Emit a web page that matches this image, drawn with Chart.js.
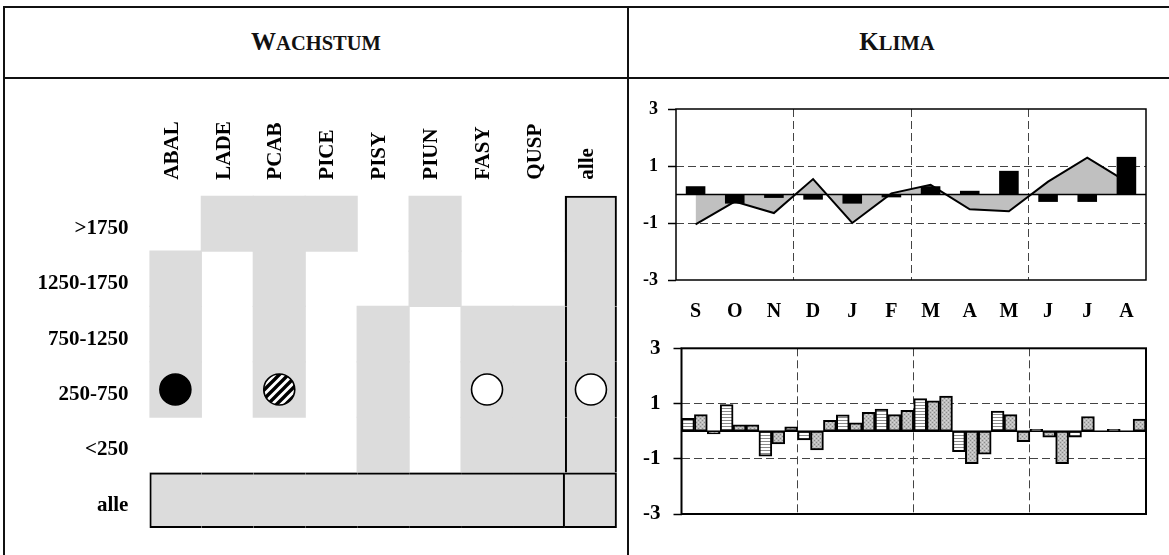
<!DOCTYPE html>
<html>
<head>
<meta charset="utf-8">
<script src="https://cdn.jsdelivr.net/npm/chart.js@4.4.1/dist/chart.umd.min.js"></script>
<style>
  body { margin: 0; background: #fff; width: 1169px; height: 555px; overflow: hidden; position: relative; font-family: 'Liberation Serif', serif; }
  .ln { position: absolute; background: #111; }
  .title { position: absolute; top: 24px; font-weight: bold; color: #111; text-align: center; line-height: 36px; }
  canvas { position: absolute; }
</style>
</head>
<body>
<div class="ln" style="left:3px;top:6px;width:1166px;height:2px"></div>
<div class="ln" style="left:3px;top:77px;width:1166px;height:2px"></div>
<div class="ln" style="left:3px;top:6px;width:2px;height:549px"></div>
<div class="ln" style="left:627px;top:6px;width:2px;height:549px"></div>
<div class="title" style="left:5px;width:622px"><span style="font-size:25px">W</span><span style="font-size:20.5px">ACHSTUM</span></div>
<div class="title" style="left:629px;width:536px"><span style="font-size:25px">K</span><span style="font-size:20.5px">LIMA</span></div>

<canvas id="growth" width="628" height="470" style="left:6px;top:81px"></canvas>
<canvas id="climateTop" width="530" height="245" style="left:632px;top:84px"></canvas>
<canvas id="climateBottom" width="530" height="220" style="left:632px;top:330px"></canvas>

<script>
// --- growth table ---
const species = ['ABAL', 'LADE', 'PCAB', 'PICE', 'PISY', 'PIUN', 'FASY', 'QUSP', 'alle'];
const altitudes = ['>1750', '1250-1750', '750-1250', '250-750', '<250', 'alle'];
// 1 = shaded cell, rows top to bottom
const present = [
  [0, 1, 1, 1, 0, 1, 0, 0, 1],
  [1, 0, 1, 0, 0, 1, 0, 0, 1],
  [1, 0, 1, 0, 1, 0, 1, 1, 1],
  [1, 0, 1, 0, 1, 0, 1, 1, 1],
  [0, 0, 0, 0, 1, 0, 1, 1, 1],
  [1, 1, 1, 1, 1, 1, 1, 1, 1]
];
const markerRow = '250-750';
const markers = ['filled', null, 'hatched', null, null, null, 'open', null, 'open'];

// --- climate ---
const months = ['S', 'O', 'N', 'D', 'J', 'F', 'M', 'A', 'M', 'J', 'J', 'A'];
const tempBars = [0.29, -0.32, -0.12, -0.18, -0.32, -0.1, 0.29, 0.13, 0.83, -0.26, -0.26, 1.32];
const tempLine = [-1.05, -0.25, -0.65, 0.54, -1.0, 0.04, 0.34, -0.52, -0.59, 0.45, 1.29, 0.45];
const precA = [0.46, 0.96, -0.91, -0.32, 0.59, 0.8, 1.18, -0.74, 0.73, 0.07, -0.22, 0.07];
const precB = [0.6, 0.23, -0.46, -0.68, 0.3, 0.6, 1.1, -1.18, 0.6, -0.22, 0.53, 0];
const precC = [-0.1, 0.23, 0.16, 0.39, 0.68, 0.75, 1.27, -0.83, -0.38, -1.18, 0, 0.44];
const yTicks = [-3, -1, 1, 3];

Chart.defaults.font.family = "'Liberation Serif', serif";
Chart.defaults.font.weight = 'bold';
Chart.defaults.color = '#000';
Chart.defaults.animation = false;
Chart.defaults.plugins.legend.display = false;
Chart.defaults.plugins.tooltip.enabled = false;

function makePattern(w, h, draw) {
  const c = document.createElement('canvas');
  c.width = w; c.height = h;
  const g = c.getContext('2d');
  draw(g);
  return g.createPattern(c, 'repeat');
}
const hatch = makePattern(9, 9, g => {
  g.fillStyle = '#fff'; g.fillRect(0, 0, 9, 9);
  g.strokeStyle = '#000'; g.lineWidth = 3.4;
  g.beginPath();
  g.moveTo(0, 9); g.lineTo(9, 0);
  g.moveTo(-3, 3); g.lineTo(3, -3);
  g.moveTo(6, 12); g.lineTo(12, 6);
  g.stroke();
});
const stripes = makePattern(4, 3, g => {
  g.fillStyle = '#fff'; g.fillRect(0, 0, 4, 3);
  g.fillStyle = '#8a8a8a'; g.fillRect(0, 0, 4, 1);
});
const stipple = makePattern(4, 4, g => {
  g.fillStyle = '#bdbdbd'; g.fillRect(0, 0, 4, 4);
  g.fillStyle = '#8a8a8a'; g.fillRect(0, 0, 1, 1); g.fillRect(2, 2, 1, 1);
  g.fillStyle = '#d8d8d8'; g.fillRect(2, 0, 1, 1); g.fillRect(0, 2, 1, 1);
});
const markerFill = { filled: '#000', hatched: hatch, open: '#fff' };

// black outline round the "alle" column and the "alle" row
const nRows = altitudes.length;
const lastRow = nRows - 1, lastCol = species.length - 1;
function cellBorder(r, c) {
  const b = { top: 0, right: 0, bottom: 0, left: 0 };
  if (r === lastRow) {
    b.top = 2; b.bottom = 2;
    if (c === 0) b.left = 2;
    if (c === lastCol - 1 || c === lastCol) b.right = 2;
  } else if (c === lastCol) {
    b.left = 2; b.right = 2;
    if (r === 0) b.top = 2;
  }
  return b;
}
const rowRange = r => [nRows - 1 - r, nRows - r];
const cellCommon = { type: 'bar', grouped: false, barPercentage: 1, categoryPercentage: 1 };

const cellSets = altitudes.map((alt, r) => ({
  ...cellCommon,
  data: present[r].map(v => v ? rowRange(r) : null),
  backgroundColor: '#dcdcdc',
  borderWidth: 0,
  inflateAmount: 0.6,
  order: 3
}));
const outlineSets = altitudes.map((alt, r) => ({
  ...cellCommon,
  data: species.map((s, c) => (r === lastRow || c === lastCol) ? rowRange(r) : null),
  backgroundColor: 'rgba(0,0,0,0)',
  borderColor: '#000',
  borderWidth: ctx => cellBorder(r, ctx.dataIndex),
  borderSkipped: false,
  inflateAmount: 0,
  order: 2
}));
const markerY = nRows - altitudes.indexOf(markerRow) - 0.5;

new Chart(document.getElementById('growth'), {
  type: 'bar',
  data: {
    labels: species,
    datasets: [
      {
        type: 'line',
        data: markers.map(m => m ? markerY : null),
        showLine: false,
        pointRadius: 15.5,
        pointBackgroundColor: ctx => markerFill[markers[ctx.dataIndex]] || '#fff',
        pointBorderColor: '#000',
        pointBorderWidth: 1.6,
        order: 0
      },
      ...outlineSets,
      ...cellSets
    ]
  },
  options: {
    responsive: false,
    layout: { padding: { left: 0, right: 7.5, top: 0, bottom: 23 } },
    scales: {
      x: {
        position: 'top',
        offset: true,
        grid: { display: false, drawTicks: false },
        border: { display: false },
        ticks: { font: { size: 21 }, minRotation: 90, maxRotation: 90, padding: 16, labelOffset: 22, autoSkip: false },
        afterFit: s => { s.height = 114.7; s.paddingLeft = 0; s.paddingRight = 0; }
      },
      y: {
        type: 'linear',
        min: 0,
        max: nRows,
        grid: { display: false, drawTicks: false },
        border: { display: false },
        afterBuildTicks: s => { s.ticks = altitudes.map((a, i) => ({ value: nRows - 1 - i + 0.5 })); },
        ticks: {
          font: { size: 21 },
          padding: 21,
          labelOffset: 5,
          callback: v => altitudes[nRows - 1 - Math.floor(v)]
        },
        afterFit: s => { s.width = 143.4; s.paddingTop = 0; s.paddingBottom = 0; }
      }
    }
  }
});

// frame and zero line from the chart's own scales
const framePlugin = {
  id: 'frame',
  afterDatasetsDraw(chart, args, opts) {
    const { ctx, chartArea: a } = chart;
    const y0 = chart.scales.y.getPixelForValue(0);
    ctx.save();
    ctx.strokeStyle = '#000';
    ctx.lineWidth = opts.zero;
    ctx.beginPath(); ctx.moveTo(a.left, y0); ctx.lineTo(a.right, y0); ctx.stroke();
    ctx.lineWidth = opts.width;
    ctx.strokeRect(a.left, a.top, a.right - a.left, a.bottom - a.top);
    ctx.restore();
  }
};

function climateScales(labelSize, xHeight, yWidth, showMonths, yPad) {
  return {
    x: {
      offset: true,
      grid: {
        color: ctx => (ctx.index > 0 && ctx.index < months.length && ctx.index % 3 === 0) ? '#444' : 'rgba(0,0,0,0)',
        lineWidth: 1,
        drawTicks: false
      },
      border: { display: false, dash: [8, 4] },
      ticks: { display: showMonths, font: { size: 20 }, padding: 20 },
      afterFit: s => { s.height = xHeight; s.paddingLeft = 0; s.paddingRight = 0; }
    },
    y: {
      min: -3,
      max: 3,
      afterBuildTicks: s => { s.ticks = yTicks.map(v => ({ value: v })); },
      grid: {
        color: ctx => Math.abs(ctx.tick.value) === 1 ? '#444' : 'rgba(0,0,0,0)',
        tickColor: '#000',
        tickLength: 8,
        tickWidth: 1.5
      },
      border: { display: false, dash: [8, 4] },
      ticks: { font: { size: labelSize }, padding: yPad },
      afterFit: s => { s.width = yWidth; s.paddingTop = 0; s.paddingBottom = 0; }
    }
  };
}

new Chart(document.getElementById('climateTop'), {
  type: 'bar',
  data: {
    labels: months,
    datasets: [
      { type: 'bar', data: tempBars, backgroundColor: '#000', barPercentage: 0.5, categoryPercentage: 1, order: 0 },
      { type: 'line', data: tempLine, borderColor: '#000', borderWidth: 2, fill: 'origin', backgroundColor: '#c0c0c0', pointRadius: 0, tension: 0, order: 1 }
    ]
  },
  options: {
    responsive: false,
    layout: { padding: { left: 0, right: 16, top: 25, bottom: 0 } },
    scales: climateScales(18, 49, 44, true, 10),
    plugins: { frame: { width: 1.5, zero: 1.5 } }
  },
  plugins: [framePlugin]
});

const barStyle = { borderColor: '#000', borderWidth: 2, borderSkipped: false, barPercentage: 1, categoryPercentage: 1 };
new Chart(document.getElementById('climateBottom'), {
  type: 'bar',
  data: {
    labels: months,
    datasets: [
      { data: precA, backgroundColor: stripes, ...barStyle },
      { data: precB, backgroundColor: stipple, ...barStyle },
      { data: precC, backgroundColor: stipple, ...barStyle }
    ]
  },
  options: {
    responsive: false,
    layout: { padding: { left: 0, right: 16, top: 18.3, bottom: 0 } },
    scales: climateScales(21, 36, 49.5, false, 13),
    plugins: { frame: { width: 2, zero: 1.5 } }
  },
  plugins: [framePlugin]
});
</script>
</body>
</html>
